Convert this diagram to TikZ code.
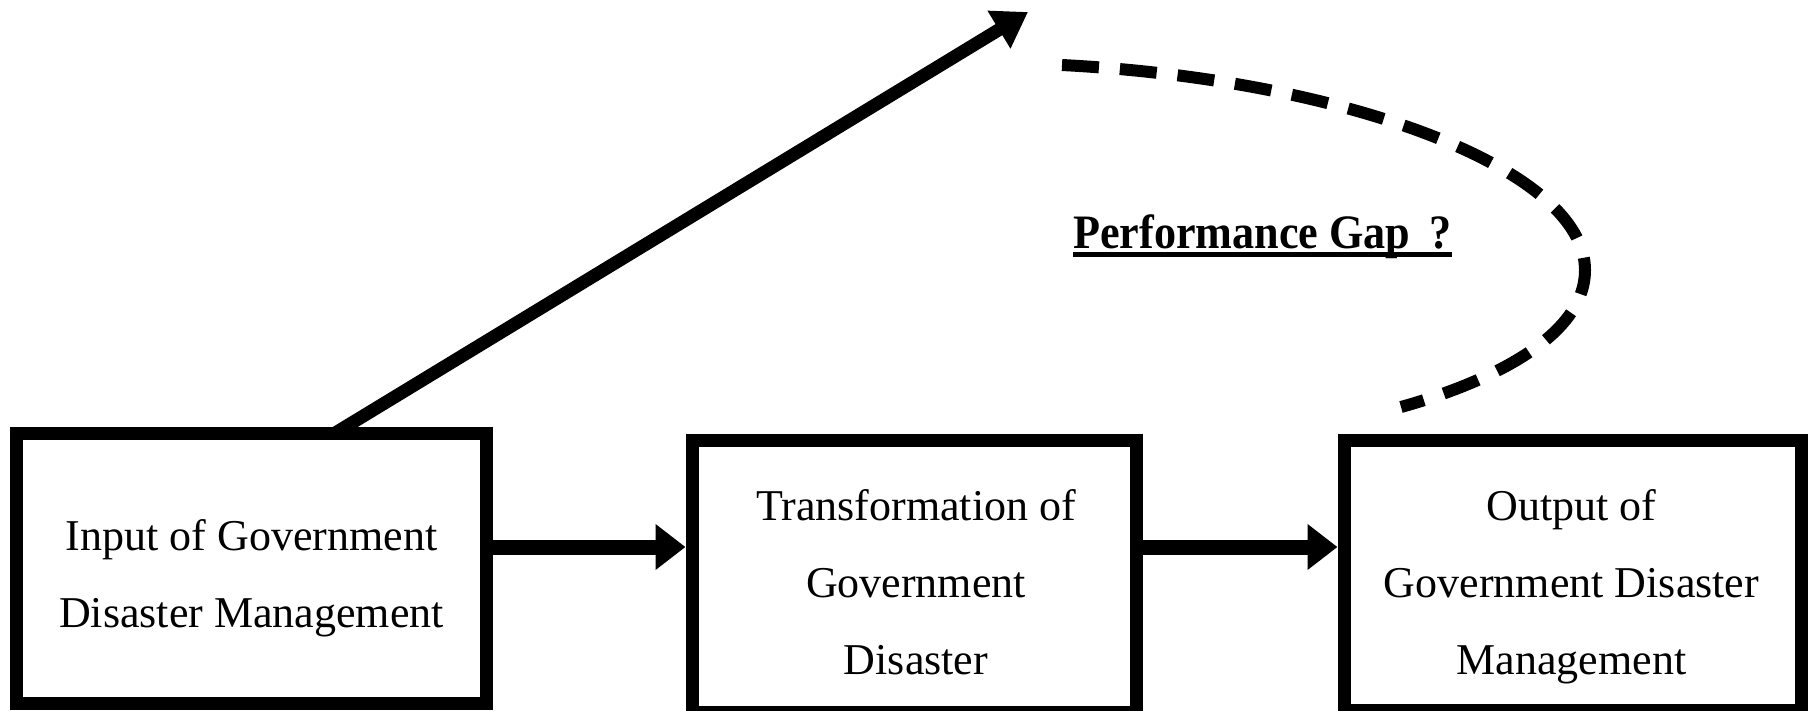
\documentclass[tikz,border=0pt]{standalone}
\usepackage{fontspec}
\setmainfont{Liberation Serif}
\newfontfamily\gapfont[FakeStretch=0.92]{Liberation Serif Bold}
\usetikzlibrary{arrows.meta}
\begin{document}
\begin{tikzpicture}[x=1pt,y=-1pt,
  blk/.style={draw=black, line width=13pt, inner sep=0pt},
  txt/.style={inner sep=0pt, align=center, anchor=north,
    font=\fontsize{44}{77}\selectfont},
  conn/.style={line width=15pt, -{Triangle[length=30pt,width=44pt]}},
  diag/.style={line width=13pt, -{Triangle[length=34pt,width=42pt]}},
  gapline/.style={line width=12pt, dash pattern=on 37pt off 21pt},
  gaptext/.style={font=\gapfont\fontsize{48}{50}\selectfont, inner sep=0pt, anchor=base west},
  uline/.style={line width=5pt}]
\useasboundingbox (0,0) rectangle (1816,710);
\fill[white] (0,0) rectangle (1816,710);
% boxes
\node[blk, minimum width=470pt, minimum height=270pt] (in) at (251.5,568.5) {};
\node[blk, minimum width=444pt, minimum height=272pt] (tr) at (914,576) {};
\node[blk, minimum width=457pt, minimum height=270pt] (out) at (1572.5,575) {};
% box texts (north = first baseline - 0.7*77)
\node[txt] (inT) at (251.5,496.1) {\strut Input of Government\\Disaster Management};
\node[txt] (trT) at (916,466.1) {\strut Transformation of\\Government\\Disaster};
\node[txt] (outT) at (1571.5,466.1) {\strut Output of\\Government Disaster\\Management};
% connectors
\draw[conn] ([yshift=21.5pt]in.east) -- ([yshift=29pt]tr.west);
\draw[conn] ([yshift=29pt]tr.east) -- ([yshift=28pt]out.west);
\coordinate (tip) at (1028,12);
\draw[diag] ([xshift=83pt,yshift=-6.5pt]in.north) -- (tip);
% performance gap curve
\coordinate (gs) at (1062,65);
\coordinate (ge) at (1401,407);
\draw[gapline] (gs) .. controls (1350,80) and (1585,170) .. (1585,270)
  .. controls (1585,340) and (1480,385) .. (ge);
% label
\node[gaptext] (pg) at (1073,248) {Performance Gap\hspace{0.4em}?\hspace{0.2em}};
\draw[uline] ([yshift=-6pt]pg.base west) -- ([yshift=-6pt]pg.base east);
\end{tikzpicture}
\end{document}
